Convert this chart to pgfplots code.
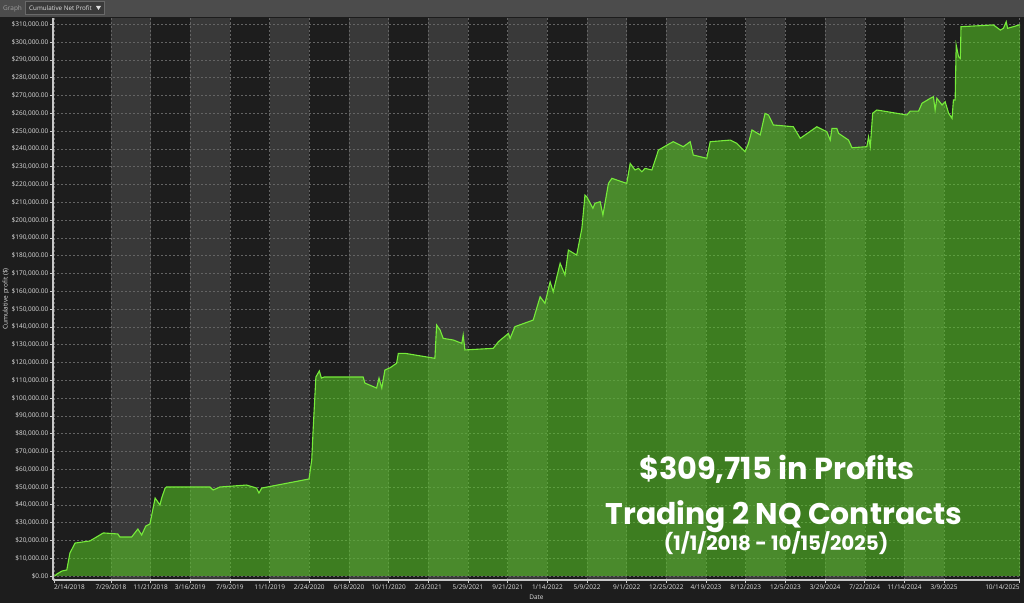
\documentclass[border=0pt]{standalone}
\usepackage{fontspec}
\setmainfont{Open Sans}
\newfontfamily\ovfont{Poppins}
\usepackage{pgfplots}
\usepackage{pgfplotstable}
\pgfplotsset{compat=1.18}
\definecolor{pagebg}{RGB}{29,29,29}
\definecolor{bandlight}{RGB}{57,57,57}
\definecolor{toolbar}{RGB}{76,76,76}
\definecolor{ddfill}{RGB}{58,58,58}
\definecolor{ddborder}{RGB}{105,105,105}
\definecolor{graytxt}{RGB}{160,160,160}
\definecolor{ticktxt}{RGB}{222,222,222}
\definecolor{axisline}{RGB}{200,200,200}
\definecolor{gridgray}{RGB}{100,100,100}
\definecolor{linegreen}{RGB}{118,235,58}
\definecolor{fillgreen}{RGB}{88,205,35}

\pgfplotstableread{
day value
46 0
52 1100
67 2800
81 3400
90 12900
105 18500
148 19700
187 24200
229 23600
235 21900
269 21900
287 26400
298 23000
310 28100
322 29200
337 43800
351 39900
356 43800
366 49400
370 50000
496 50000
505 48300
525 50000
602 51100
631 49400
638 46600
646 49400
783 54500
791 65200
795 82000
803 111800
813 115200
819 111200
827 111800
940 111800
945 108400
979 105600
986 111200
994 105600
1003 115700
1018 117000
1037 119500
1042 125100
1061 125100
1148 122300
1153 141000
1163 138200
1172 133500
1201 132600
1226 130700
1230 135400
1235 127000
1317 127900
1332 131600
1361 136300
1366 133500
1380 140100
1433 143800
1453 156900
1467 153200
1482 165300
1491 159700
1511 175700
1525 169100
1535 183100
1559 180300
1574 195300
1583 214000
1588 213100
1606 206600
1612 209400
1627 210300
1635 202800
1641 209400
1651 220600
1661 223400
1704 220600
1714 231800
1728 228100
1738 229000
1748 227100
1757 229000
1777 228100
1796 239300
1830 243100
1839 244000
1868 241200
1888 244000
1897 236500
1936 234700
1946 244000
2004 244900
2023 243100
2047 238400
2057 243100
2067 250600
2091 247800
2105 259900
2115 259000
2129 253400
2187 252400
2207 245900
2255 252400
2284 249600
2294 244900
2299 251500
2313 251500
2318 248700
2347 244900
2357 240600
2400 241200
2405 246800
2410 241200
2417 260000
2429 261800
2458 260900
2516 259000
2526 261200
2550 261200
2560 265600
2584 268400
2593 269300
2598 261800
2603 268400
2618 264600
2627 266500
2637 260000
2647 257100
2651 267400
2656 267400
2659 298300
2666 291700
2671 290800
2673 308600
2767 309600
2787 306700
2796 307700
2804 311400
2808 307700
2844 309715
}\profit

\pgfplotsset{
  chartgeom/.style={
    at={(53bp,23bp)}, anchor=south west,
    scale only axis, width=967bp, height=562bp,
    xmin=41, xmax=2844, ymin=-2250, ymax=313500,
  }
}

\begin{document}
\begin{tikzpicture}
\fill[pagebg] (0bp,0bp) rectangle (1024bp,603bp);
\path[use as bounding box] (0bp,0bp) rectangle (1024bp,603bp);
% toolbar
\fill[toolbar] (0bp,586bp) rectangle (1024bp,603bp);
\node[anchor=west, font=\fontsize{6.5}{7}\selectfont, text=graytxt, inner sep=0pt] at (3bp,594.5bp) {Graph};
\draw[fill=ddfill, draw=ddborder, line width=0.6bp] (25.5bp,588.5bp) rectangle (104bp,601.5bp);
\node[anchor=west, font=\fontsize{6.3}{7}\selectfont, text=ticktxt, inner sep=0pt] at (29bp,594.5bp) {Cumulative Net Profit};
\fill[ticktxt] (96bp,597bp) -- (101bp,597bp) -- (98.5bp,593bp) -- cycle;

% background bands
\begin{axis}[chartgeom, hide axis]
\fill[bandlight] (axis cs:209,-2250) rectangle (axis cs:324,313500);
\fill[bandlight] (axis cs:439,-2250) rectangle (axis cs:554,313500);
\fill[bandlight] (axis cs:669,-2250) rectangle (axis cs:784,313500);
\fill[bandlight] (axis cs:899,-2250) rectangle (axis cs:1014,313500);
\fill[bandlight] (axis cs:1129,-2250) rectangle (axis cs:1244,313500);
\fill[bandlight] (axis cs:1359,-2250) rectangle (axis cs:1474,313500);
\fill[bandlight] (axis cs:1589,-2250) rectangle (axis cs:1704,313500);
\fill[bandlight] (axis cs:1819,-2250) rectangle (axis cs:1934,313500);
\fill[bandlight] (axis cs:2049,-2250) rectangle (axis cs:2164,313500);
\fill[bandlight] (axis cs:2279,-2250) rectangle (axis cs:2394,313500);
\fill[bandlight] (axis cs:2509,-2250) rectangle (axis cs:2624,313500);
\end{axis}

\begin{axis}[
  chartgeom,
  axis lines=left,
  axis line style={-, draw=axisline, line width=1.2bp},
  tick align=outside, major tick length=3bp,
  tick style={draw=axisline, line width=0.6bp},
  grid=major,
  major grid style={draw=gridgray, line width=0.5bp, dash pattern=on 2bp off 2bp},
  scaled y ticks=false,
  ytick={0,10000,...,310000},
  /pgf/number format/assume math mode=true,
  yticklabel={\$\pgfmathprintnumber[fixed,precision=2,fixed zerofill,1000 sep={,}]{\tick}},
  xtick={44,209,324,439,554,669,784,899,1014,1129,1244,1359,1474,1589,1704,1819,1934,2049,2164,2279,2394,2509,2624,2843},
  xticklabels={\rlap{2/14/2018},7/29/2018,11/21/2018,3/16/2019,7/9/2019,11/1/2019,2/24/2020,6/18/2020,10/11/2020,2/3/2021,5/29/2021,9/21/2021,1/14/2022,5/9/2022,9/1/2022,12/25/2022,4/19/2023,8/12/2023,12/5/2023,3/29/2024,7/22/2024,11/14/2024,3/9/2025,\llap{10/14/2025}},
  ticklabel style={font=\fontsize{6.5}{7}\selectfont, text=ticktxt},
  yticklabel style={inner sep=1.5bp},
  xticklabel style={inner sep=1.5bp},
  xlabel={Date}, ylabel={Cumulative profit (\$)},
  label style={font=\fontsize{6.5}{7}\selectfont, text=ticktxt},
  xlabel style={at={(axis description cs:0.5,0)}, anchor=center, yshift=-17bp},
  ylabel style={at={(axis description cs:-0.0486,0.5)}, anchor=center},
]
\addplot[draw=none, fill=fillgreen, fill opacity=0.55] table[x=day, y=value] {\profit} \closedcycle;
\addplot[draw=linegreen, line width=1.1bp, mark=none] table[x=day, y=value] {\profit};
\end{axis}

\node[anchor=base, text=white, font=\ovfont\bfseries\fontsize{30.5}{33}\selectfont, inner sep=0pt] at (777bp,123bp) {\$309,715 in Profits};
\node[anchor=base, text=white, font=\ovfont\bfseries\fontsize{30}{33}\selectfont, inner sep=0pt] at (784bp,78bp) {Trading 2 NQ Contracts};
\node[anchor=base, text=white, font=\ovfont\bfseries\fontsize{20}{23}\selectfont, inner sep=0pt] at (776bp,52bp) {(1/1/2018 - 10/15/2025)};
\end{tikzpicture}
\end{document}
